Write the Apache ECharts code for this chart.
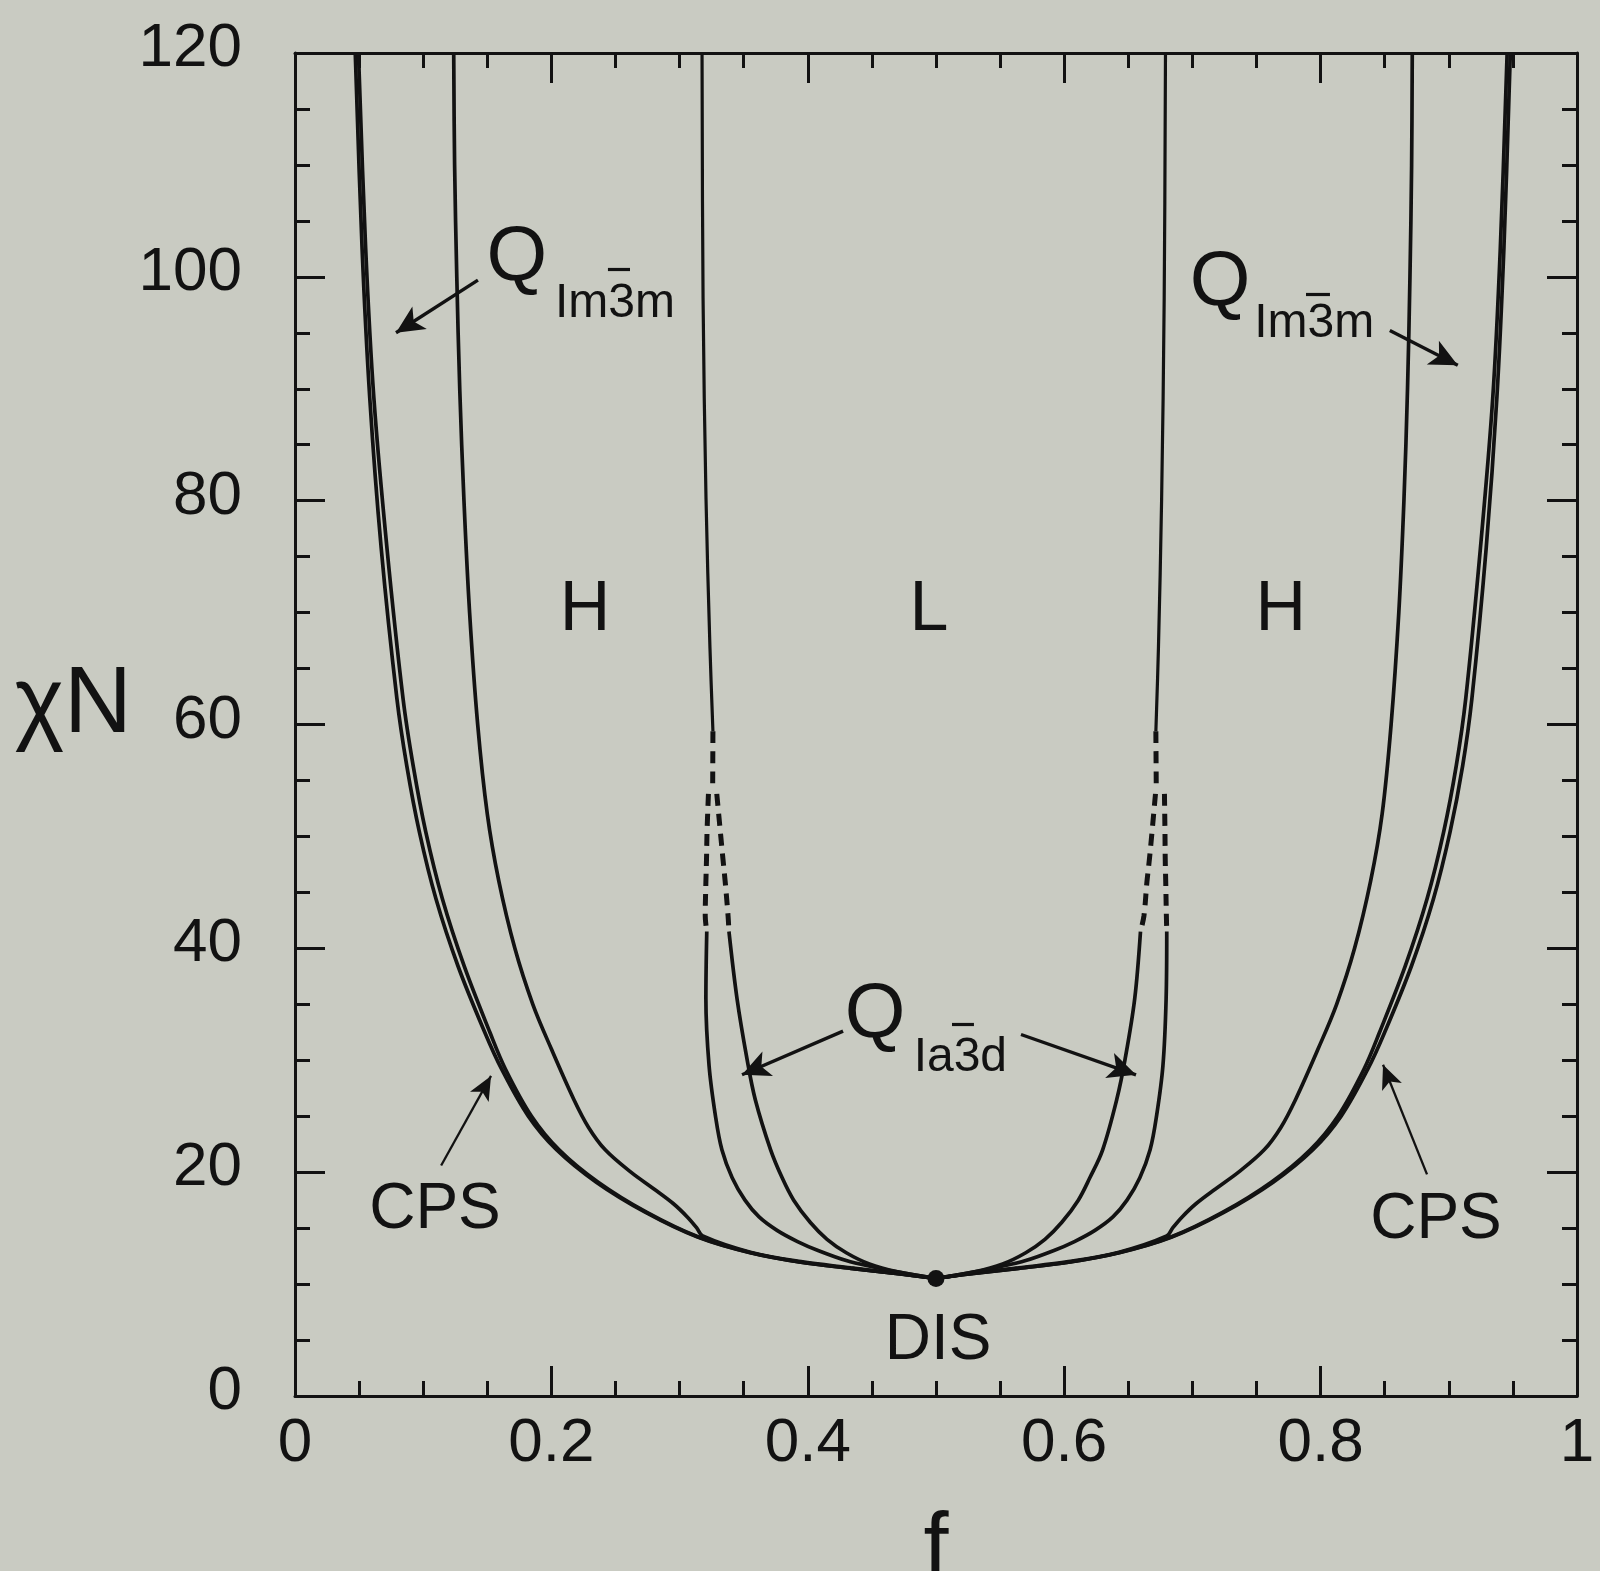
<!DOCTYPE html>
<html>
<head>
<meta charset="utf-8">
<script src="https://cdn.jsdelivr.net/npm/echarts@6/dist/echarts.min.js"></script>
<style>
  html, body { margin: 0; padding: 0; background: #c9cbc2; }
  #chart { width: 1600px; height: 1571px; }
</style>
</head>
<body>
<div id="chart"></div>
<script>
// ---------------- data (f, chiN) ----------------
const xTickLabels = ['0', '0.2', '0.4', '0.6', '0.8', '1'];
const yTickLabels = ['0', '20', '40', '60', '80', '100', '120'];

// left half (f < 0.5)
const disCpsLeft = [[0.047,120],[0.0523,102.6],[0.0583,89.2],[0.0672,75.8],[0.0795,62.3],[0.0872,56.3],[0.0970,50.4],[0.1100,44.4],[0.1272,38.4],[0.1480,32.5],[0.1612,29.2],[0.1820,25.0],[0.2040,22.0],[0.2350,19.1],[0.2735,16.4],[0.3140,14.2],[0.3550,12.8],[0.3945,11.95],[0.4335,11.4],[0.4720,10.9],[0.5,10.5]];
const cpsQLeft = [[0.0495,120],[0.0551,102.6],[0.0615,89.2],[0.0717,75.8],[0.0843,62.3],[0.0922,56.3],[0.1020,50.4],[0.1150,44.4],[0.1320,38.4],[0.1520,32.5],[0.1642,29.2],[0.1845,25.0],[0.2060,22.0],[0.2365,19.1],[0.2745,16.4],[0.3148,14.2],[0.3555,12.8],[0.3948,11.95],[0.4337,11.4],[0.4721,10.9],[0.5,10.5]];
const qHLeft = [[0.1238,120],[0.1245,110],[0.1262,100],[0.1285,90],[0.1318,80],[0.1362,70],[0.1425,60],[0.1500,52],[0.1590,46],[0.1715,40],[0.1855,35],[0.2000,31],[0.2175,26.5],[0.2290,24],[0.2420,22],[0.2620,20],[0.2800,18.5],[0.2950,17.2],[0.3060,16.0],[0.3135,15.0],[0.3180,14.3],[0.3552,12.85],[0.3947,12.0],[0.4336,11.45],[0.4721,10.92],[0.5,10.5]];
const hlLeft = [[0.3175,120],[0.3183,98.1],[0.3206,80.2],[0.3237,66.8],[0.326,59.4]];
const hlDashLeft = [[0.326,59.4],[0.3258,54.5]];
const hgDashLeft = [[0.3225,53.8],[0.3214,50.4],[0.3210,48.0],[0.3205,45.9],[0.3200,42.9],[0.3212,41.5]];
const glDashLeft = [[0.3290,53.8],[0.3318,50.4],[0.3338,48.0],[0.3356,45.9],[0.3378,42.9],[0.3385,41.5]];
const hgLeft = [[0.3212,41.5],[0.3205,35.5],[0.3230,29.5],[0.3280,25.0],[0.3330,22.0],[0.3410,19.5],[0.3510,17.5],[0.3620,16.0],[0.3760,14.8],[0.3920,13.8],[0.4080,13.0],[0.4300,12.1],[0.4500,11.55],[0.4720,11.05],[0.5,10.5]];
const glLeft = [[0.3385,41.5],[0.3448,35.5],[0.3526,30.1],[0.3590,26.5],[0.3710,22.0],[0.3800,19.5],[0.3890,17.5],[0.4020,15.5],[0.4150,14.0],[0.4300,12.8],[0.4480,11.8],[0.4700,11.1],[0.5,10.5]];

// right half (f > 0.5)
const disCpsRight = [[0.948,120],[0.943,102.6],[0.9375,89.2],[0.9292,75.8],[0.9180,62.3],[0.9108,56.3],[0.9010,50.4],[0.8880,44.4],[0.8708,38.4],[0.8500,32.5],[0.8368,29.2],[0.8160,25.0],[0.7940,22.0],[0.7630,19.1],[0.7245,16.4],[0.6840,14.2],[0.6430,12.8],[0.6035,11.95],[0.5645,11.4],[0.5260,10.9],[0.5,10.5]];
const cpsQRight = [[0.9455,120],[0.9402,102.6],[0.9343,89.2],[0.9247,75.8],[0.9132,62.3],[0.9058,56.3],[0.8960,50.4],[0.8830,44.4],[0.8660,38.4],[0.8460,32.5],[0.8338,29.2],[0.8135,25.0],[0.7920,22.0],[0.7615,19.1],[0.7235,16.4],[0.6832,14.2],[0.6425,12.8],[0.6032,11.95],[0.5643,11.4],[0.5259,10.9],[0.5,10.5]];
const qHRight = [[0.8715,120],[0.8710,110],[0.8697,100],[0.8678,90],[0.8650,80],[0.8610,70],[0.8550,60],[0.8480,52],[0.8390,46],[0.8265,40],[0.8125,35],[0.7980,31],[0.7805,26.5],[0.7690,24],[0.7560,22],[0.7360,20],[0.7180,18.5],[0.7030,17.2],[0.6920,16.0],[0.6845,15.0],[0.6800,14.3],[0.6428,12.85],[0.6033,12.0],[0.5644,11.45],[0.5259,10.92],[0.5,10.5]];
const hlRight = [[0.679,120],[0.678,98.1],[0.676,80.2],[0.6735,66.8],[0.6715,59.4]];
const hlDashRight = [[0.6715,59.4],[0.6718,54.5]];
const hgDashRight = [[0.6782,53.8],[0.6786,50.4],[0.6788,48.0],[0.6792,45.9],[0.6797,42.9],[0.680,41.5]];
const glDashRight = [[0.6712,53.8],[0.6685,50.4],[0.6665,48.0],[0.6645,45.9],[0.6622,42.9],[0.6595,41.5]];
const hgRight = [[0.680,41.5],[0.6795,35.5],[0.6770,29.5],[0.6720,25.0],[0.6670,22.0],[0.6590,19.5],[0.6490,17.5],[0.6380,16.0],[0.6240,14.8],[0.6080,13.8],[0.5920,13.0],[0.5700,12.1],[0.5500,11.55],[0.5280,11.05],[0.5,10.5]];
const glRight = [[0.6595,41.5],[0.6550,35.5],[0.6475,30.1],[0.6410,26.5],[0.6300,22.0],[0.6200,19.5],[0.6110,17.5],[0.5980,15.5],[0.5850,14.0],[0.5700,12.8],[0.5520,11.8],[0.5300,11.1],[0.5,10.5]];

// critical point
const disPoint = [[0.5, 10.5]];

// annotations: text and anchor (f, chiN)
const annoText = ['Q', 'Im3m', 'Q', 'Im3m', 'H', 'L', 'H', 'Q', 'Ia3d', 'CPS', 'CPS', 'DIS'];
const annoF    = [0.173, 0.2496, 0.7215, 0.795, 0.2262, 0.4945, 0.769, 0.4524, 0.519, 0.1092, 0.890, 0.5016];
const annoChi  = [101.6, 97.6, 99.4, 95.8, 70.2, 70.2, 70.2, 34.0, 30.2, 16.6, 15.7, 4.9];
const annoKind = ['big', 'sub', 'big', 'sub', 'region', 'region', 'region', 'big', 'sub', 'small', 'small', 'small'];

// bars over the "3" of the space-group subscripts: [f1, f2, chiN]
const overBars = [[0.2441, 0.2613, 100.7], [0.7886, 0.8073, 98.4], [0.5125, 0.5296, 33.2]];

// arrows: [fromF, fromChi, toF, toChi]
const arrowsBold = [[0.1427, 99.7, 0.0788, 95.0], [0.854, 95.2, 0.907, 92.1], [0.4275, 32.6, 0.3487, 28.7], [0.5663, 32.3, 0.656, 28.7]];
const arrowsThin = [[0.114, 20.6, 0.1529, 28.6], [0.883, 19.8, 0.8487, 29.6]];

// ---------------- chart ----------------
const ink = '#121212';
const font = '"Liberation Sans", Arial, Helvetica, sans-serif';
const kindStyle = {
  big:    { fontSize: 78 },
  sub:    { fontSize: 48 },
  region: { fontSize: 70 },
  small:  { fontSize: 64 }
};

function curve(data, opts) {
  opts = opts || {};
  return {
    type: 'line', data: data, showSymbol: false, smooth: 0.35, silent: true,
    xAxisIndex: 0, yAxisIndex: 0, z: 3,
    lineStyle: { color: ink, width: opts.width || 3.7, type: opts.dashed ? [12, 8] : 'solid', cap: 'butt' }
  };
}

function arrowData(list) {
  return list.map(a => [{ coord: [a[0], a[1]] }, { coord: [a[2], a[3]] }]);
}

const axisCommon = {
  type: 'value',
  axisLine: { show: true, onZero: false, lineStyle: { color: ink, width: 3 } },
  axisTick: { show: true, inside: true, length: 30, lineStyle: { color: ink, width: 3 } },
  minorTick: { show: true, splitNumber: 4, length: 15, lineStyle: { color: ink, width: 3 } },
  splitLine: { show: false },
  minorSplitLine: { show: false }
};

const chart = echarts.init(document.getElementById('chart'), null, { renderer: 'canvas' });

const series = [
  curve(disCpsLeft), curve(cpsQLeft), curve(qHLeft), curve(hlLeft, { width: 3.2 }),
  curve(hlDashLeft, { dashed: true, width: 5 }), curve(hgDashLeft, { dashed: true, width: 5 }), curve(glDashLeft, { dashed: true, width: 5 }),
  curve(hgLeft), curve(glLeft),
  curve(disCpsRight), curve(cpsQRight), curve(qHRight), curve(hlRight, { width: 3.2 }),
  curve(hlDashRight, { dashed: true, width: 5 }), curve(hgDashRight, { dashed: true, width: 5 }), curve(glDashRight, { dashed: true, width: 5 }),
  curve(hgRight), curve(glRight),
  {
    type: 'scatter', data: disPoint, symbol: 'circle', symbolSize: 17, silent: true, z: 5,
    itemStyle: { color: ink, opacity: 1 }
  },
  {
    type: 'line', data: [], silent: true, z: 4,
    markLine: {
      silent: true, animation: false, symbol: ['none', 'arrow'], symbolSize: [20, 28],
      label: { show: false },
      lineStyle: { color: ink, width: 3.4, type: 'solid', opacity: 1 },
      emphasis: { disabled: true },
      data: arrowData(arrowsBold)
    }
  },
  {
    type: 'line', data: [], silent: true, z: 4,
    markLine: {
      silent: true, animation: false, symbol: ['none', 'arrow'], symbolSize: [16, 24],
      label: { show: false },
      lineStyle: { color: ink, width: 2.3, type: 'solid', opacity: 1 },
      emphasis: { disabled: true },
      data: arrowData(arrowsThin)
    }
  },
  {
    type: 'line', data: [], silent: true, z: 6,
    markLine: {
      silent: true, animation: false, symbol: ['none', 'none'],
      label: { show: false },
      lineStyle: { color: ink, width: 3.2, type: 'solid', opacity: 1 },
      emphasis: { disabled: true },
      data: overBars.map(b => [{ coord: [b[0], b[2]] }, { coord: [b[1], b[2]] }])
    }
  },
  {
    type: 'scatter', silent: true, z: 6, symbolSize: 1,
    itemStyle: { color: 'rgba(0,0,0,0)', opacity: 1 },
    data: annoText.map((t, i) => ({
      value: [annoF[i], annoChi[i]],
      label: {
        show: true, position: 'inside', formatter: t, color: ink, opacity: 1,
        textBorderWidth: 0, fontFamily: font, fontSize: kindStyle[annoKind[i]].fontSize,
        align: 'center', verticalAlign: 'middle'
      }
    }))
  }
];

chart.setOption({
  animation: false,
  backgroundColor: '#c9cbc2',
  grid: { left: 295, right: 23, top: 53, bottom: 175, containLabel: false, outerBoundsMode: 'none' },
  xAxis: [
    Object.assign({}, axisCommon, {
      position: 'bottom', min: 0, max: 1, interval: 0.2,
      axisLabel: {
        show: true, margin: 17, color: ink, fontFamily: font, fontSize: 62,
        formatter: v => xTickLabels[Math.round(v / 0.2)]
      },
      name: 'f', nameLocation: 'middle', nameGap: 110,
      nameTextStyle: { color: ink, fontFamily: font, fontSize: 90 }
    }),
    Object.assign({}, axisCommon, {
      position: 'top', min: 0, max: 1, interval: 0.2,
      axisLabel: { show: false }
    })
  ],
  yAxis: [
    Object.assign({}, axisCommon, {
      position: 'left', min: 0, max: 120, interval: 20,
      axisLabel: {
        show: true, margin: 53, color: ink, fontFamily: font, fontSize: 62,
        verticalAlign: 'middle',
        formatter: v => '{t|' + yTickLabels[Math.round(v / 20)] + '}',
        rich: { t: { color: ink, fontFamily: font, fontSize: 62, padding: [0, 0, 8, 0] } }
      },
      name: '{t|\u03c7N}', nameLocation: 'middle', nameRotate: 0, nameGap: 163,
      nameTextStyle: {
        color: ink, fontFamily: font, fontSize: 94,
        rich: { t: { color: ink, fontFamily: font, fontSize: 94, padding: [0, 0, 36, 0] } }
      }
    }),
    Object.assign({}, axisCommon, {
      position: 'right', min: 0, max: 120, interval: 20,
      axisLabel: { show: false }
    })
  ],
  series: series
});
</script>
</body>
</html>
